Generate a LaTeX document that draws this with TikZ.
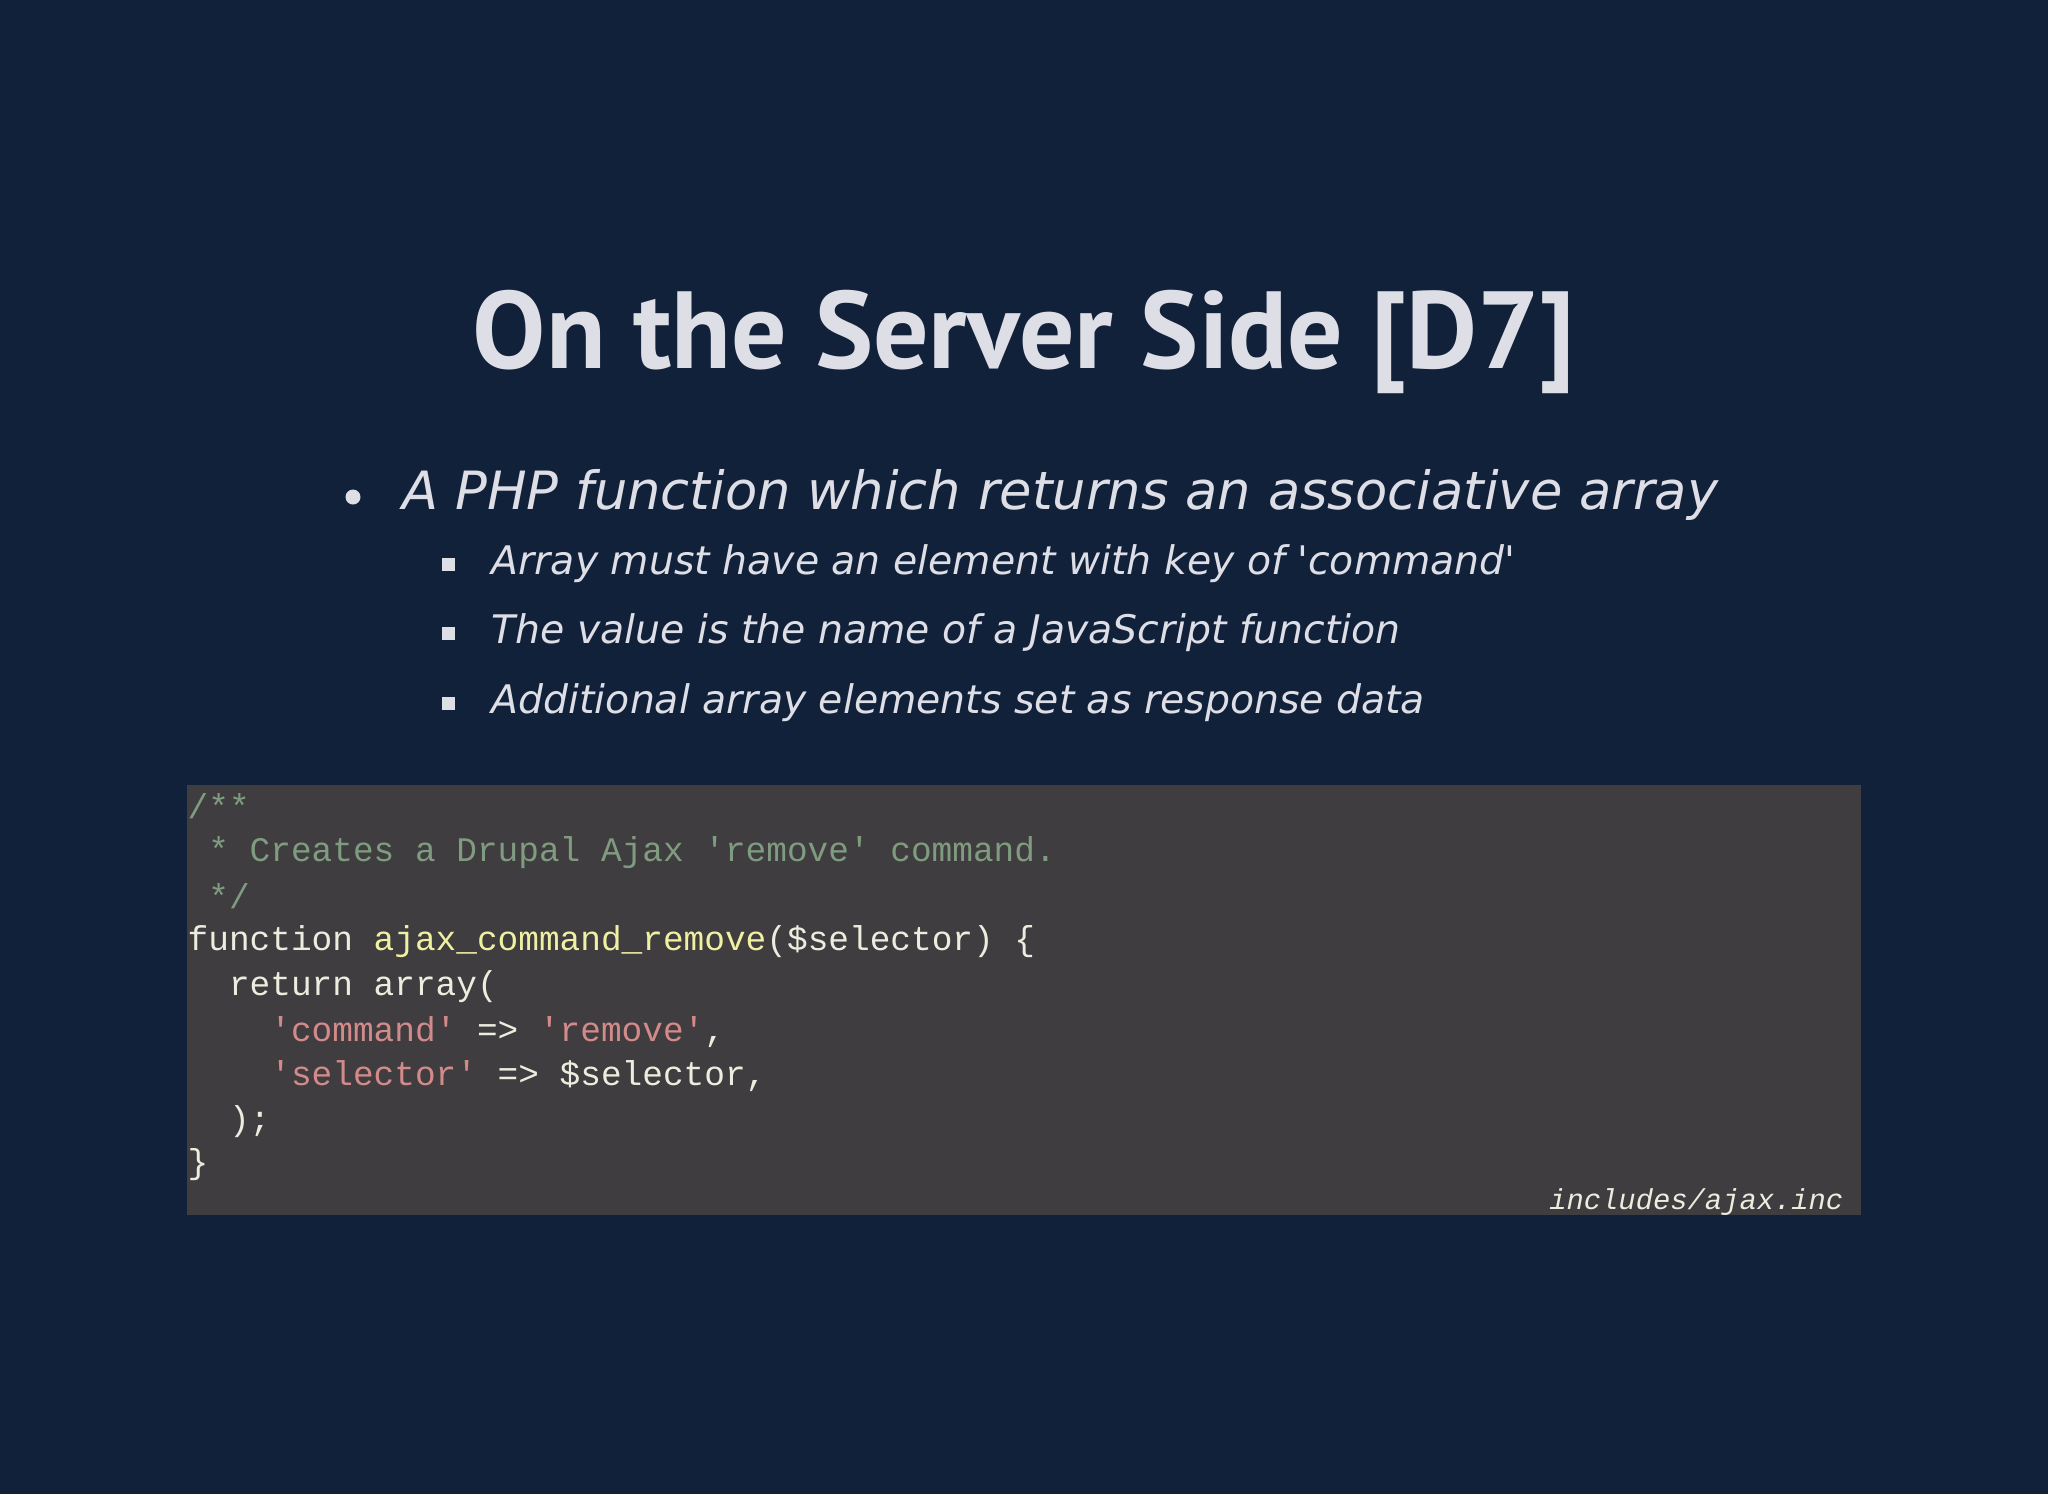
\documentclass[tikz,border=0pt]{standalone}
\usepackage{fontspec}
\setmainfont{DejaVu Sans}
\newfontfamily\titlefont{PT Sans}
\newfontfamily\codefont{Liberation Mono}
\usetikzlibrary{positioning}
\definecolor{bgnavy}{HTML}{11213A}
\definecolor{fgtext}{HTML}{DEDEE6}
\definecolor{codebg}{HTML}{3F3D3F}
\definecolor{cmtgreen}{HTML}{809C80}
\definecolor{plaincode}{HTML}{EDEDDF}
\definecolor{fnyellow}{HTML}{F0F0A2}
\definecolor{strpink}{HTML}{D38A8A}
\tikzset{
  title/.style={text=fgtext,font=\titlefont\bfseries\fontsize{31.2}{38}\selectfont},
  itemtext/.style={text=fgtext,anchor=west,inner sep=0pt,font=\itshape\fontsize{15}{18}\selectfont},
  subtext/.style={text=fgtext,anchor=west,inner sep=0pt,font=\itshape\fontsize{11.2}{14}\selectfont},
  codeline/.style={anchor=west,inner sep=0pt,text=plaincode,font=\codefont\fontsize{9.8}{12}\selectfont}
}
\begin{document}
\begin{tikzpicture}[x=1cm,y=-1cm]
  \fill[bgnavy] (0,0) rectangle (20.48,14.94);
  \useasboundingbox (0,0) rectangle (20.48,14.94);

  \node[title] (head) at (10.24,3.42) {On the Server Side [D7]};

  \fill[fgtext] (3.53,4.97) circle (0.075);
  \node[itemtext] (item) at (4.02,4.95) {A PHP function which returns an associative array};
  \foreach \y/\t/\n in {5.64/Array must have an element with key of \textquotesingle command\textquotesingle/sub1,
                        6.33/The value is the name of a JavaScript function/sub2,
                        7.03/Additional array elements set as response data/sub3}{
    \fill[fgtext] (4.48,\y) ++(-0.065,-0.065) rectangle ++(0.13,0.13);
    \node[subtext] (\n) at (4.91,\y) {\t};
  }

  % code block
  \fill[codebg] (1.87,7.85) rectangle (18.61,12.15);
  \node[codeline,text=cmtgreen] (c1) at (1.87,8.06) {/**};
  \node[codeline,text=cmtgreen] (c2) at (1.87,8.53) {\ * Creates a Drupal Ajax 'remove' command.};
  \node[codeline,text=cmtgreen] (c3) at (1.87,8.96) {\ */};
  \node[codeline] (c4) at (1.87,9.42) {function \textcolor{fnyellow}{ajax\_command\_remove}(\$selector) \{};
  \node[codeline] (c5) at (1.87,9.87) {\ \ return array(};
  \node[codeline] (c6) at (1.87,10.32) {\ \ \ \ \textcolor{strpink}{'command'} => \textcolor{strpink}{'remove'},};
  \node[codeline] (c7) at (1.87,10.76) {\ \ \ \ \textcolor{strpink}{'selector'} => \$selector,};
  \node[codeline] (c8) at (1.87,11.22) {\ \ );};
  \node[codeline] (c9) at (1.87,11.65) {\}};
  \node[codeline,anchor=east,font=\codefont\itshape\fontsize{8.2}{10}\selectfont] (src) at (18.44,12.02) {includes/ajax.inc};
\end{tikzpicture}
\end{document}
